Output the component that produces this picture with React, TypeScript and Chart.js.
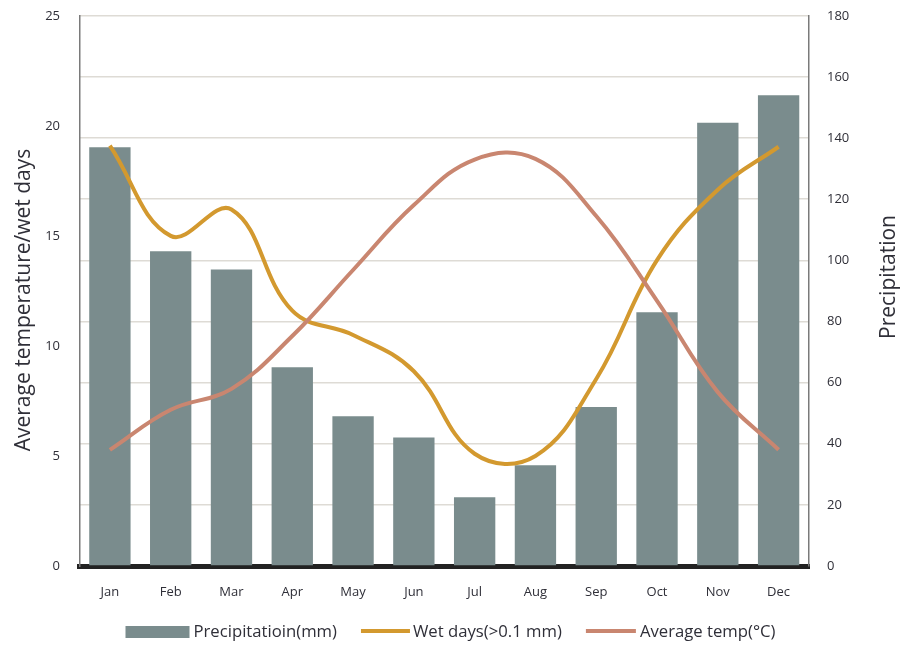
import { useEffect, useRef } from "react";
import { Chart, registerables } from "chart.js";

Chart.register(...registerables);

// Monthly climate figures
const months = ["Jan", "Feb", "Mar", "Apr", "May", "Jun", "Jul", "Aug", "Sep", "Oct", "Nov", "Dec"];
const precipitationMm = [137, 103, 97, 65, 49, 42, 22.5, 33, 52, 83, 145, 154];
const wetDays = [19.1, 15.0, 16.2, 11.6, 10.5, 8.85, 5.1, 5.0, 8.5, 13.9, 17.1, 19.05];
const avgTemp = [5.28, 7.1, 8.05, 10.45, 13.45, 16.4, 18.47, 18.5, 15.9, 12.05, 7.9, 5.28];

// Axis ranges
const leftAxis = { min: 0, max: 25, step: 5 };
const rightAxis = { min: 0, max: 180, step: 20 };

const FONT = "'Open Sans', 'Noto Sans', sans-serif";
const TEXT = "#2f2f38";
const BAR = "#7a8c8d";
const WET = "#d3992f";
const TEMP = "#c98670";

const titlesAndLegend = {
  id: "titlesAndLegend",
  afterDraw(chart: any) {
    const ctx = chart.ctx as CanvasRenderingContext2D;
    ctx.save();
    ctx.fillStyle = TEXT;
    ctx.font = `21px ${FONT}`;
    ctx.textAlign = "center";
    ctx.textBaseline = "middle";

    // axis titles, both reading bottom-to-top
    const drawVertical = (text: string, x: number, y: number) => {
      ctx.save();
      ctx.translate(x, y);
      ctx.rotate(-Math.PI / 2);
      ctx.fillText(text, 0, 0);
      ctx.restore();
    };
    drawVertical("Average temperature/wet days", 24, 300);
    drawVertical("Precipitation", 889, 277);

    // legend row
    ctx.font = `16.7px ${FONT}`;
    ctx.textAlign = "left";
    const items = [
      { label: chart.data.datasets[0].label, color: BAR, kind: "box", w: 64, gap: 4 },
      { label: chart.data.datasets[1].label, color: WET, kind: "line", w: 49, gap: 3 },
      { label: chart.data.datasets[2].label, color: TEMP, kind: "line", w: 50, gap: 4 },
    ];
    const between = 24;
    const widths = items.map((it) => it.w + it.gap + ctx.measureText(it.label).width);
    const total = widths.reduce((a, b) => a + b, 0) + between * (items.length - 1);
    let x = (chart.width - total) / 2;
    const cy = 632;
    items.forEach((it, i) => {
      if (it.kind === "box") {
        ctx.fillStyle = it.color;
        ctx.fillRect(x, cy - 6, it.w, 12);
      } else {
        ctx.strokeStyle = it.color;
        ctx.lineWidth = 4;
        ctx.beginPath();
        ctx.moveTo(x, cy - 1);
        ctx.lineTo(x + it.w, cy - 1);
        ctx.stroke();
      }
      ctx.fillStyle = TEXT;
      ctx.fillText(it.label, x + it.w + it.gap, cy);
      x += widths[i] + between;
    });
    ctx.restore();
  },
};

export default function App() {
  const canvasRef = useRef<HTMLCanvasElement | null>(null);

  useEffect(() => {
    document.body.style.margin = "0";
    const canvas = canvasRef.current;
    if (!canvas) return;

    const chart = new Chart(canvas, {
      type: "bar",
      data: {
        labels: months,
        datasets: [
          {
            type: "bar",
            label: "Precipitatioin(mm)",
            data: precipitationMm,
            backgroundColor: BAR,
            borderWidth: 0,
            barPercentage: 0.68,
            categoryPercentage: 1,
            yAxisID: "y1",
            order: 3,
          },
          {
            type: "line",
            label: "Wet days(>0.1 mm)",
            data: wetDays,
            borderColor: WET,
            backgroundColor: WET,
            borderWidth: 4,
            pointRadius: 0,
            tension: 0.4,
            fill: false,
            yAxisID: "y",
            order: 2,
          },
          {
            type: "line",
            label: "Average temp(°C)",
            data: avgTemp,
            borderColor: TEMP,
            backgroundColor: TEMP,
            borderWidth: 4,
            pointRadius: 0,
            tension: 0.4,
            fill: false,
            yAxisID: "y",
            order: 1,
          },
        ],
      } as any,
      options: {
        responsive: false,
        animation: false,
        devicePixelRatio: 1,
        layout: { padding: { top: 8, bottom: 0, left: 0, right: 0 } },
        font: { family: FONT },
        plugins: {
          legend: { display: false },
          tooltip: { enabled: false },
        },
        scales: {
          x: {
            grid: { display: false, drawTicks: false },
            border: { display: true, color: "#222222", width: 5 },
            ticks: { color: TEXT, font: { family: FONT, size: 13 }, padding: 18 },
            afterFit: (s: any) => {
              s.height = 80;
            },
          },
          y: {
            position: "left",
            min: leftAxis.min,
            max: leftAxis.max,
            grid: { display: false, drawTicks: true, tickLength: 11.5 },
            border: { display: true, color: "#7a7a7a", width: 1.5 },
            ticks: { stepSize: leftAxis.step, color: TEXT, font: { family: FONT, size: 13 }, padding: 8 },
            afterFit: (s: any) => {
              s.width = 79.5;
            },
          },
          y1: {
            position: "right",
            min: rightAxis.min,
            max: rightAxis.max,
            grid: {
              display: true,
              drawTicks: true,
              tickLength: 10,
              tickColor: "rgba(0,0,0,0)",
              color: "#dedbd5",
              lineWidth: 1.5,
            },
            border: { display: true, color: "#7a7a7a", width: 1.5 },
            ticks: { stepSize: rightAxis.step, color: TEXT, font: { family: FONT, size: 13 }, padding: 8 },
            afterFit: (s: any) => {
              s.width = 92;
            },
          },
        },
      } as any,
      plugins: [titlesAndLegend],
    });

    return () => chart.destroy();
  }, []);

  return (
    <div style={{ width: 901, height: 646 }}>
      <canvas ref={canvasRef} width={901} height={646} />
    </div>
  );
}
